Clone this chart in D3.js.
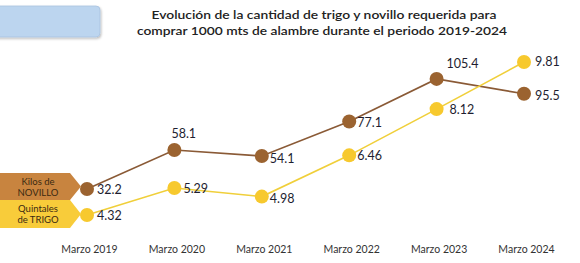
<!DOCTYPE html>
<html>
<head>
<meta charset="utf-8">
<script src="https://cdn.jsdelivr.net/npm/d3@7"></script>
<style>
  body { margin: 0; background: #fff; }
  svg { display: block; font-family: Lato, "Open Sans", sans-serif; }
</style>
</head>
<body>
<div id="chart"></div>
<script>
// data
const years = ["Marzo 2019", "Marzo 2020", "Marzo 2021", "Marzo 2022", "Marzo 2023", "Marzo 2024"];
const novillo = [32.2, 58.1, 54.1, 77.1, 105.4, 95.5];
const trigo = [4.32, 5.29, 4.98, 6.46, 8.12, 9.81];
const titleLines = ["Evolución de la cantidad de trigo y novillo requerida para",
                    "comprar 1000 mts de alambre durante el periodo 2019-2024"];

const W = 580, H = 263;
const svg = d3.select("#chart").append("svg")
    .attr("width", W)
    .attr("height", H);

// blue box top left
let defs = svg.append("defs");
let f = defs.append("filter").attr("id", "shadow").attr("x", "-10%").attr("y", "-20%").attr("width", "130%").attr("height", "160%");
f.append("feDropShadow").attr("dx", 1).attr("dy", 1.5).attr("stdDeviation", 1.2).attr("flood-color", "#000").attr("flood-opacity", 0.25);

svg.append("rect")
    .attr("x", -6).attr("y", 6)
    .attr("width", 106).attr("height", 31)
    .attr("rx", 4)
    .attr("fill", "#bcd5ef")
    .attr("stroke", "#a9c3df")
    .attr("stroke-width", 0.8)
    .attr("filter", "url(#shadow)");

// title
svg.selectAll(".title")
    .data(titleLines)
    .join("text")
    .attr("class", "title")
    .attr("x", (d, i) => i == 0 ? 324 : 322)
    .attr("y", (d, i) => 19 + i * 16)
    .attr("text-anchor", "middle")
    .attr("font-size", 12)
    .attr("font-weight", 600)
    .attr("fill", "#222")
    .attr("textLength", (d, i) => i == 0 ? 345 : 370)
    .attr("lengthAdjust", "spacingAndGlyphs")
    .text(d => d);

// scales
let x = d3.scalePoint().domain(years).range([87, 524]);
let yN = d3.scaleLinear().domain([30, 110]).range([192.3, 72.0]);
let yT = d3.scaleLinear().domain([4, 10]).range([223.9, 56.7]);

// x axis (labels only)
let xAxis = d3.axisBottom(x).tickSize(0).tickPadding(0);
let gx = svg.append("g")
    .attr("transform", "translate(2,246)")
    .call(xAxis);
gx.select(".domain").remove();
gx.selectAll("text")
    .attr("font-family", "Lato, sans-serif")
    .attr("font-size", 10.5)
    .attr("fill", "#333");

const series = [
    { name: "novillo", values: novillo, y: yN, line: "#8a5a36", dot: "#9b6330" },
    { name: "trigo", values: trigo, y: yT, line: "#f0cf3a", dot: "#f7c92e" }
];

for (let s of series) {
    let line = d3.line()
        .x((d, i) => x(years[i]))
        .y(d => s.y(d));
    svg.append("path")
        .datum(s.values)
        .attr("fill", "none")
        .attr("stroke", s.line)
        .attr("stroke-width", 1.6)
        .attr("d", line);
    svg.selectAll(".dot-" + s.name)
        .data(s.values)
        .join("circle")
        .attr("class", "dot-" + s.name)
        .attr("cx", (d, i) => x(years[i]))
        .attr("cy", d => s.y(d))
        .attr("r", 7)
        .attr("fill", s.dot);
}

// data labels: offsets per point
const novilloOff = [[10, 5], [-3, -12], [8, 7], [8, 6], [10, -11], [11, 6]];
const trigoOff = [[10, 5], [9, 5], [8, 6], [8, 5], [13, 5], [11, 4]];

svg.selectAll(".lblN")
    .data(novillo)
    .join("text")
    .attr("class", "lblN")
    .attr("x", (d, i) => x(years[i]) + novilloOff[i][0])
    .attr("y", (d, i) => yN(d) + novilloOff[i][1])
    .attr("font-size", 12.5)
    .attr("fill", "#1e1e30")
    .text(d => d);

svg.selectAll(".lblT")
    .data(trigo)
    .join("text")
    .attr("class", "lblT")
    .attr("x", (d, i) => x(years[i]) + trigoOff[i][0])
    .attr("y", (d, i) => yT(d) + trigoOff[i][1])
    .attr("font-size", 12.5)
    .attr("fill", "#1e1e30")
    .text(d => d.toFixed(2));

// legend tags
const tags = [
    { lines: ["Kilos de", "NOVILLO"], fill: "#c8843f", y0: 173, y1: 200 },
    { lines: ["Quintales", "de TRIGO"], fill: "#f8cc3a", y0: 200, y1: 228 }
];
for (let t of tags) {
    let mid = (t.y0 + t.y1) / 2;
    svg.append("path")
        .attr("d", `M0,${t.y0} L70,${t.y0} L81,${mid} L70,${t.y1} L0,${t.y1} Z`)
        .attr("fill", t.fill);
    svg.append("text")
        .attr("x", 38)
        .attr("y", mid - 2)
        .attr("text-anchor", "middle")
        .attr("font-size", 9.5)
        .attr("fill", "#3b2a12")
        .selectAll("tspan")
        .data(t.lines)
        .join("tspan")
        .attr("x", 38)
        .attr("dy", (d, i) => i == 0 ? 0 : 11)
        .text(d => d);
}
</script>
</body>
</html>
